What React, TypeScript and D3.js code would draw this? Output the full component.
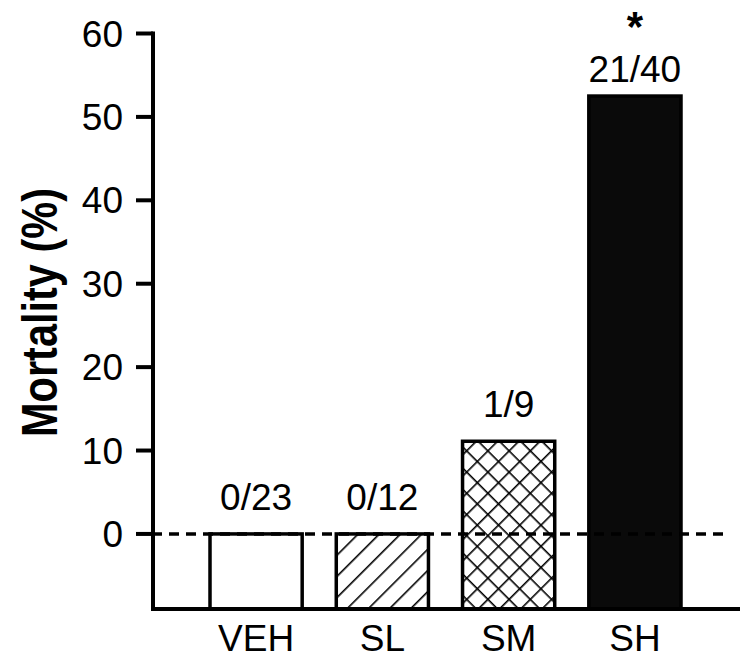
import React from "react";
import * as d3 from "d3";

const categories = ["VEH", "SL", "SM", "SH"];
const mortality = [0, 0, 100 / 9, 52.5];
const countLabels = ["0/23", "0/12", "1/9", "21/40"];
const significant = [false, false, false, true];
const yTicks = [0, 10, 20, 30, 40, 50, 60];
const fills = ["white", "url(#hatch)", "url(#cross)", "#0a0a0a"];

const W = 750;
const H = 666;

export default function App() {
  const y = d3.scaleLinear().domain([-9, 60]).range([609, 33.5]);
  const x = d3.scaleBand<string>().domain(categories).range([210, 681]).paddingInner(0.27).paddingOuter(0);
  const font = "Liberation Sans, Arial, Helvetica, sans-serif";
  const axisX = 153;

  return (
    <svg width={W} height={H} style={{ position: "absolute", left: 0, top: 0, background: "white" }} fontFamily={font}>
      <defs>
        <pattern id="hatch" patternUnits="userSpaceOnUse" width={15} height={15} patternTransform="rotate(45)">
          <rect width={15} height={15} fill="white" />
          <line x1={0} y1={0} x2={0} y2={15} stroke="black" strokeWidth={3.2} />
        </pattern>
        <pattern id="cross" patternUnits="userSpaceOnUse" width={15} height={15} patternTransform="rotate(45) translate(3,3)">
          <rect width={15} height={15} fill="white" />
          <line x1={0} y1={0} x2={0} y2={15} stroke="black" strokeWidth={3.2} />
          <line x1={0} y1={0} x2={15} y2={0} stroke="black" strokeWidth={3.2} />
        </pattern>
      </defs>

      {/* bars */}
      {categories.map((c, i) => (
        <rect
          key={c}
          x={x(c)}
          y={y(mortality[i])}
          width={x.bandwidth()}
          height={y(-9) - y(mortality[i])}
          fill={fills[i]}
          stroke="black"
          strokeWidth={3.5}
        />
      ))}

      {/* dashed zero line */}
      <line x1={axisX - 1} x2={730} y1={y(0)} y2={y(0)} stroke="black" strokeWidth={3.5} strokeDasharray="10 7" />

      {/* y axis */}
      <line x1={axisX} x2={axisX} y1={y(60) - 2} y2={y(-9) + 2} stroke="black" strokeWidth={4} />
      {yTicks.map((t) => (
        <g key={t}>
          <line x1={axisX - 17} x2={axisX} y1={y(t)} y2={y(t)} stroke="black" strokeWidth={4} />
          <text x={123} y={y(t) + 13} textAnchor="end" fontSize={37} fill="black">
            {t}
          </text>
        </g>
      ))}

      {/* x axis */}
      <line x1={axisX - 2} x2={740} y1={y(-9)} y2={y(-9)} stroke="black" strokeWidth={4} />
      {categories.map((c) => (
        <text key={c} x={(x(c) as number) + x.bandwidth() / 2} y={651} textAnchor="middle" fontSize={37} fill="black">
          {c}
        </text>
      ))}

      {/* count labels */}
      {categories.map((c, i) => (
        <text
          key={c + "l"}
          x={(x(c) as number) + x.bandwidth() / 2}
          y={y(mortality[i]) - (significant[i] ? 14 : 24)}
          textAnchor="middle"
          fontSize={37}
          fill="black"
        >
          {countLabels[i]}
        </text>
      ))}
      {categories.map((c, i) =>
        significant[i] ? (
          <text
            key={c + "s"}
            x={(x(c) as number) + x.bandwidth() / 2}
            y={y(mortality[i]) - 55}
            textAnchor="middle"
            fontSize={42}
            fontWeight="bold"
            fill="black"
          >
            *
          </text>
        ) : null
      )}

      {/* y title */}
      <text
        transform={`translate(57, 312.5) rotate(-90)`}
        textAnchor="middle"
        fontSize={50}
        fontWeight="bold"
        fill="black"
        textLength={249}
        lengthAdjust="spacingAndGlyphs"
      >
        Mortality (%)
      </text>
    </svg>
  );
}
